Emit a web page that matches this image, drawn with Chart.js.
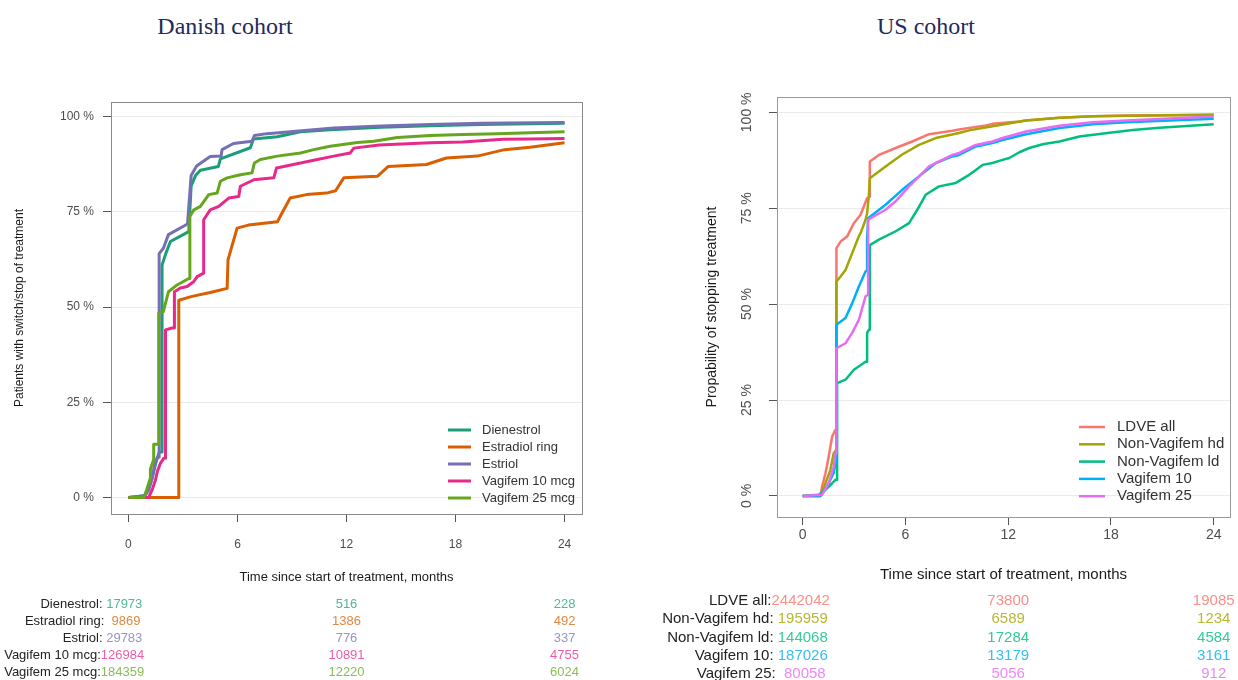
<!DOCTYPE html>
<html>
<head>
<meta charset="utf-8">
<script src="https://cdn.jsdelivr.net/npm/chart.js@4.4.1/dist/chart.umd.min.js"></script>
<style>
  html, body { margin:0; padding:0; background:#fff; }
  #wrap { position:relative; width:1238px; height:680px; background:#fff; overflow:hidden; }
  .ttl { position:absolute; top:13px; font-family:"Liberation Serif","Times New Roman",serif; font-size:24px; color:#1f2b5b; white-space:nowrap; transform:translateX(-50%); }
  .pane { position:absolute; top:0; height:680px; }
</style>
</head>
<body>
<div id="wrap">
  <div class="ttl" style="left:225px">Danish cohort</div>
  <div class="ttl" style="left:926px">US cohort</div>
  <div class="pane" style="left:0;width:620px"><canvas id="c1"></canvas></div>
  <div class="pane" style="left:620px;width:618px"><canvas id="c2"></canvas></div>
</div>
<script>
// ---------- tick values ----------
const xTickValues = [0, 6, 12, 18, 24];
const yTickValues = [0, 25, 50, 75, 100];
const riskTimes = [0, 12, 24];

// ---------- Danish cohort (months, % stopped) ----------
const dkLabels = ['Dienestrol', 'Estradiol ring', 'Estriol', 'Vagifem 10 mcg', 'Vagifem 25 mcg'];
const dkColors = ['#1b9e77', '#d95f02', '#7570b3', '#e7298a', '#66a61e'];
const dkTableColors = ['#54b699', '#e28741', '#9794c6', '#ed5ea7', '#8cbc56'];

const dkDienestrolX = [0, 0.9, 1.1, 1.3, 1.5, 1.7, 1.85, 1.85, 2.03, 2.31, 3.32, 3.45, 3.69, 3.96, 4.95, 5.06, 6.71, 6.88, 8.19, 9.47, 11.1, 13.9, 16.6, 19.4, 24];
const dkDienestrolY = [0, 0.5, 2, 5, 9, 12, 12, 61, 63.7, 67.2, 69.8, 81.8, 84.5, 85.9, 86.9, 88.9, 91.8, 94.1, 94.7, 96.0, 96.5, 97.2, 97.6, 97.9, 98.2];

const dkEstradiolX = [0, 2.77, 2.77, 3.5, 4.5, 5.43, 5.48, 5.98, 6.6, 8.2, 8.4, 8.9, 9.8, 10.9, 11.4, 11.85, 13.7, 14.3, 16.4, 17.5, 19.2, 20.7, 22.1, 24];
const dkEstradiolY = [0, 0, 51.8, 52.8, 53.8, 54.9, 62.4, 70.7, 71.5, 72.4, 74.2, 78.6, 79.5, 79.9, 80.5, 83.9, 84.3, 86.9, 87.4, 89.1, 89.6, 91.3, 91.9, 93.1];

const dkEstriolX = [0, 0.9, 1.1, 1.3, 1.45, 1.6, 1.69, 1.69, 1.93, 2.2, 3.25, 3.45, 3.75, 4.5, 5.1, 5.15, 5.78, 6.8, 6.93, 7.63, 8.9, 11.3, 13.9, 16.6, 19.4, 24];
const dkEstriolY = [0, 0.5, 2, 5, 9, 10.6, 10.6, 64, 65.5, 69, 71.8, 84.5, 87, 89.5, 89.6, 91.3, 92.9, 93.5, 95, 95.5, 96, 97, 97.5, 97.9, 98.2, 98.4];

const dkVag10X = [0, 1.1, 1.3, 1.48, 1.6, 1.76, 1.94, 2.04, 2.04, 2.4, 2.53, 2.53, 2.86, 3.23, 3.6, 3.78, 4.14, 4.14, 4.5, 4.97, 5.52, 6.07, 6.16, 6.9, 8.0, 8.15, 9.47, 10.4, 11.3, 12.2, 12.4, 13.8, 16.6, 18.4, 20.6, 22.1, 24];
const dkVag10Y = [0, 0, 2, 4.5, 7, 9, 10.3, 10.3, 44, 44.5, 44.5, 54, 55, 55.4, 56.7, 58, 58.9, 72.9, 75.5, 76.4, 78.6, 79, 81.7, 83.4, 83.9, 86.5, 87.8, 88.7, 89.6, 90.4, 91.7, 92.5, 93.1, 93.3, 94.0, 94.1, 94.2];

const dkVag25X = [0, 0.84, 1.0, 1.2, 1.21, 1.39, 1.39, 1.67, 1.67, 1.92, 2.2, 2.68, 3.32, 3.38, 3.38, 3.6, 3.96, 4.42, 4.88, 5.06, 5.43, 6.16, 6.8, 6.93, 7.26, 8.19, 9.47, 10.2, 11.1, 12.6, 13.5, 14.8, 16.6, 18.4, 20.3, 22.1, 24];
const dkVag25Y = [0, 0, 2, 5, 7.5, 10, 14, 14, 48.4, 48.8, 54, 55.8, 57.5, 57.5, 73.8, 75.5, 76.4, 79.5, 79.9, 83, 83.9, 84.7, 85.2, 87.8, 88.7, 89.6, 90.4, 91.3, 92.2, 93.2, 93.5, 94.5, 95.0, 95.3, 95.5, 95.7, 96.0];

const dkRisk0 = [17973, 9869, 29783, 126984, 184359];
const dkRisk12 = [516, 1386, 776, 10891, 12220];
const dkRisk24 = [228, 492, 337, 4755, 6024];

// ---------- US cohort (months, % stopped) ----------
const usLabels = ['LDVE all', 'Non-Vagifem hd', 'Non-Vagifem ld', 'Vagifem 10', 'Vagifem 25'];
const usColors = ['#F8766D', '#A3A500', '#00BF7D', '#00B0F6', '#E76BF3'];
const usTableColors = ['#f99089', '#b6b733', '#33cc97', '#33c0f8', '#ec89f5'];

const usLdveX = [0, 1.04, 1.13, 1.33, 1.52, 1.72, 1.91, 1.97, 1.97, 2.21, 2.59, 2.99, 3.38, 3.76, 3.92, 3.92, 4.45, 5.43, 6.4, 7.38, 8.74, 9.13, 10.7, 11.08, 12.65, 13.04, 14.99, 16.94, 18.89, 24];
const usLdveY = [0, 0, 2.4, 5.9, 10.3, 15.5, 17.2, 17.2, 64.6, 66.3, 67.6, 71.1, 73.3, 77.6, 78, 87.2, 88.9, 90.7, 92.4, 94.3, 95.2, 95.5, 96.6, 97.0, 97.6, 97.9, 98.6, 99.0, 99.2, 99.4];

const usNvHdX = [0, 1.04, 1.33, 1.62, 1.81, 1.97, 1.97, 2.21, 2.5, 2.89, 3.28, 3.38, 3.67, 3.76, 3.86, 3.92, 4.84, 5.81, 6.79, 7.77, 9.13, 9.72, 11.08, 13.04, 14.99, 16.94, 24];
const usNvHdY = [0, 0, 3.3, 6.8, 11.1, 12, 55.9, 57.2, 58.9, 63.3, 67.7, 68.5, 72, 73.7, 78, 82.8, 85.9, 89, 91.5, 93.3, 94.6, 95.3, 96.4, 97.9, 98.6, 99.0, 99.4];

const usNvLdX = [0, 0.94, 1.33, 1.72, 1.91, 2.01, 2.01, 2.5, 2.99, 3.67, 3.76, 3.76, 3.86, 3.92, 3.92, 4.45, 5.43, 6.21, 6.69, 7.18, 7.96, 8.94, 9.72, 10.11, 10.5, 11.08, 11.67, 12.06, 12.65, 13.23, 14.01, 14.99, 16.16, 17.92, 19.28, 20.84, 24];
const usNvLdY = [0, 0.3, 1.6, 3.3, 4.2, 4.2, 29.4, 30.3, 32.9, 35, 35, 42.5, 43.3, 43.3, 65.4, 66.8, 69, 71.1, 74.6, 78.5, 80.7, 81.6, 83.7, 85.0, 86.3, 86.8, 87.6, 88.1, 89.6, 90.7, 91.7, 92.4, 93.7, 94.7, 95.4, 96.0, 96.9];

const usVag10X = [0, 1.04, 1.42, 1.81, 1.91, 1.97, 1.97, 2.5, 2.89, 3.28, 3.67, 3.76, 3.76, 3.82, 4.84, 5.81, 6.79, 7.77, 8.74, 9.13, 10.11, 11.08, 11.67, 13.04, 14.99, 16.94, 18.89, 24];
const usVag10Y = [0, 0, 2.4, 6, 8.5, 8.5, 44.6, 46.4, 50.2, 54.6, 58.5, 58.9, 66.8, 72.4, 75.9, 79.8, 83.3, 86.8, 88.5, 88.9, 91.1, 92.0, 92.8, 94.3, 95.9, 96.9, 97.4, 98.3];

const usVag25X = [0, 1.13, 1.52, 1.81, 1.91, 1.97, 1.97, 2.5, 2.89, 3.28, 3.67, 3.82, 3.82, 4.84, 5.43, 6.21, 7.38, 8.74, 9.13, 10.11, 11.08, 11.67, 13.04, 14.99, 16.94, 18.89, 24];
const usVag25Y = [0, 0.3, 3.3, 7.6, 11.1, 11.1, 38.5, 39.8, 42.5, 45.9, 52, 52.5, 72, 74.6, 76.8, 80.7, 85.9, 88.9, 89.4, 91.5, 92.4, 93.3, 95.0, 96.5, 97.4, 97.9, 98.9];

const usRisk0 = [2442042, 195959, 144068, 187026, 80058];
const usRisk12 = [73800, 6589, 17284, 13179, 5056];
const usRisk24 = [19085, 1234, 4584, 3161, 912];

// ---------- helpers ----------
const SANS = '"Liberation Sans", Arial, Helvetica, sans-serif';
Chart.defaults.font.family = SANS;
Chart.defaults.animation = false;

function pts(xs, ys) { return xs.map((x, i) => ({ x: x, y: ys[i] })); }
function makeSets(labels, colors, xsList, ysList, width) {
  return labels.map((lab, i) => ({
    label: lab,
    data: pts(xsList[i], ysList[i]),
    borderColor: colors[i],
    backgroundColor: colors[i],
    borderWidth: width,
    pointRadius: 0,
    pointHoverRadius: 0,
    tension: 0,
    fill: false,
    order: -i,
    borderJoinStyle: 'round',
    borderCapStyle: 'butt'
  }));
}

const boxPlugin = (color) => ({
  id: 'box',
  afterDatasetsDraw(chart) {
    const { ctx, chartArea: a } = chart;
    ctx.save();
    ctx.strokeStyle = color;
    ctx.lineWidth = 1;
    ctx.strokeRect(Math.round(a.left) + 0.5, Math.round(a.top) + 0.5, Math.round(a.right - a.left), Math.round(a.bottom - a.top));
    ctx.restore();
  }
});

const legendPlugin = (opt) => ({
  id: 'inLegend',
  afterDraw(chart) {
    const { ctx, chartArea: a } = chart;
    ctx.save();
    ctx.font = opt.font;
    ctx.textBaseline = 'middle';
    ctx.textAlign = 'left';
    chart.data.datasets.forEach((ds, i) => {
      const y = a.bottom - opt.fromBottom + opt.dy * i;
      const x0 = a.right - opt.fromRight;
      ctx.strokeStyle = ds.borderColor;
      ctx.lineWidth = opt.lw;
      ctx.beginPath();
      ctx.moveTo(x0, y);
      ctx.lineTo(x0 + opt.len, y);
      ctx.stroke();
      ctx.fillStyle = '#333';
      ctx.fillText(ds.label, x0 + opt.textGap, y);
    });
    ctx.restore();
  }
});

const tablePlugin = (opt) => ({
  id: 'riskTable',
  afterDraw(chart) {
    const { ctx } = chart;
    const xs = chart.scales.x;
    ctx.save();
    ctx.font = opt.font;
    ctx.textBaseline = 'middle';
    const w0 = Math.max(...opt.cols[0].map(v => String(v).length));
    opt.labels.forEach((lab, r) => {
      const y = opt.y0 + opt.dy * r;
      opt.cols.forEach((col, j) => {
        const px = xs.getPixelForValue(riskTimes[j]) + (j === 0 ? opt.shift0 : 0);
        let txt = String(col[r]);
        if (j === 0) txt = txt.padStart(w0, ' ');
        const tw = ctx.measureText(txt).width;
        ctx.fillStyle = opt.colors[r];
        ctx.textAlign = 'left';
        ctx.fillText(txt, px - tw / 2, y);
        if (j === 0) {
          ctx.fillStyle = '#222';
          ctx.textAlign = 'right';
          ctx.fillText(lab + ':', px - tw / 2, y);
        }
      });
    });
    ctx.restore();
  }
});

const rotYLabels = (opt) => ({
  id: 'rotY',
  afterDraw(chart) {
    const { ctx, chartArea: a } = chart;
    const ys = chart.scales.y;
    ctx.save();
    ctx.font = opt.font;
    ctx.fillStyle = '#4d4d4d';
    ctx.textAlign = 'center';
    ctx.textBaseline = 'middle';
    ys.ticks.forEach(t => {
      const py = ys.getPixelForValue(t.value);
      ctx.save();
      ctx.translate(a.left - opt.off, py);
      ctx.rotate(-Math.PI / 2);
      ctx.fillText(t.value + ' %', 0, 0);
      ctx.restore();
    });
    ctx.restore();
  }
});

function setTicks(vals) { return (scale) => { scale.ticks = vals.map(v => ({ value: v })); }; }

// ---------- Danish chart ----------
new Chart(document.getElementById('c1'), {
  type: 'line',
  data: { datasets: makeSets(dkLabels, dkColors,
    [dkDienestrolX, dkEstradiolX, dkEstriolX, dkVag10X, dkVag25X],
    [dkDienestrolY, dkEstradiolY, dkEstriolY, dkVag10Y, dkVag25Y], 3) },
  options: {
    responsive: true, maintainAspectRatio: false, animation: false,
    layout: { padding: { left: 12, right: 38, top: 102, bottom: 95 } },
    plugins: { legend: { display: false }, tooltip: { enabled: false }, title: { display: false } },
    scales: {
      x: {
        type: 'linear', min: -0.96, max: 24.96,
        afterBuildTicks: setTicks(xTickValues),
        afterFit: (s) => { s.height = 71; },
        ticks: { font: { size: 12 }, color: '#4d4d4d', padding: 15, maxRotation: 0, callback: v => String(v) },
        grid: { drawOnChartArea: false, drawTicks: true, tickLength: 8, tickColor: '#555' },
        border: { display: false },
        title: { display: true, text: 'Time since start of treatment, months', font: { size: 13 }, color: '#1a1a1a', padding: 0 }
      },
      y: {
        type: 'linear', min: -4.3, max: 103.8,
        afterBuildTicks: setTicks(yTickValues),
        afterFit: (s) => { s.width = 99; },
        ticks: { font: { size: 12 }, color: '#4d4d4d', padding: 9, callback: v => v + ' %' },
        grid: { color: '#ebebeb', lineWidth: 1, drawTicks: true, tickLength: 8, tickColor: '#555' },
        border: { display: false },
        title: { display: true, text: 'Patients with switch/stop of treatment', font: { size: 12 }, color: '#1a1a1a', padding: 0 }
      }
    }
  },
  plugins: [
    boxPlugin('#8a8a8a'),
    legendPlugin({ font: '13px ' + SANS, fromBottom: 84, dy: 17, fromRight: 134, len: 23, textGap: 34, lw: 3 }),
    tablePlugin({ font: '13px ' + SANS, y0: 604, dy: 17, shift0: -6, labels: dkLabels, colors: dkTableColors, cols: [dkRisk0, dkRisk12, dkRisk24] })
  ]
});

// ---------- US chart ----------
new Chart(document.getElementById('c2'), {
  type: 'line',
  data: { datasets: makeSets(usLabels, usColors,
    [usLdveX, usNvHdX, usNvLdX, usVag10X, usVag25X],
    [usLdveY, usNvHdY, usNvLdY, usVag10Y, usVag25Y], 2.5) },
  options: {
    responsive: true, maintainAspectRatio: false, animation: false,
    layout: { padding: { left: 83.6, right: 8, top: 97, bottom: 96 } },
    plugins: { legend: { display: false }, tooltip: { enabled: false }, title: { display: false } },
    scales: {
      x: {
        type: 'linear', min: -1.5, max: 24.95,
        afterBuildTicks: setTicks(xTickValues),
        afterFit: (s) => { s.height = 67; },
        ticks: { font: { size: 14 }, color: '#4d4d4d', padding: 2, maxRotation: 0, callback: v => String(v) },
        grid: { drawOnChartArea: false, drawTicks: true, tickLength: 8, tickColor: '#555' },
        border: { display: false },
        title: { display: true, text: 'Time since start of treatment, months', font: { size: 15 }, color: '#1a1a1a', padding: 0 }
      },
      y: {
        type: 'linear', min: -5.5, max: 104,
        afterBuildTicks: setTicks(yTickValues),
        afterFit: (s) => { s.width = 73.4; },
        ticks: { display: false },
        grid: { color: '#ebebeb', lineWidth: 1, drawTicks: true, tickLength: 8, tickColor: '#555' },
        border: { display: false },
        title: { display: true, text: 'Propability of stopping treatment', font: { size: 14 }, color: '#1a1a1a', padding: 0 }
      }
    }
  },
  plugins: [
    boxPlugin('#9a9a9a'),
    rotYLabels({ font: '14px ' + SANS, off: 30 }),
    legendPlugin({ font: '15px ' + SANS, fromBottom: 90, dy: 17.3, fromRight: 151, len: 26, textGap: 38, lw: 2.5 }),
    tablePlugin({ font: '15px ' + SANS, y0: 601, dy: 18.2, shift0: -2, labels: usLabels, colors: usTableColors, cols: [usRisk0, usRisk12, usRisk24] })
  ]
});
</script>
</body>
</html>
